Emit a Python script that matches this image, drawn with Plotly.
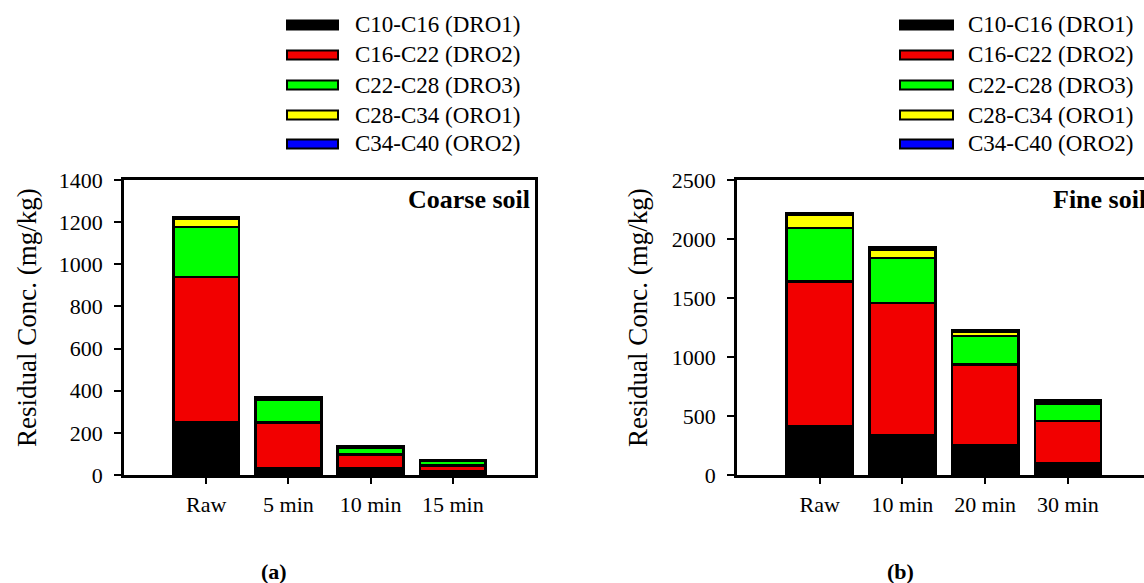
import plotly.graph_objects as go

# ---------------- data ----------------
series_names = ["C10-C16 (DRO1)", "C16-C22 (DRO2)", "C22-C28 (DRO3)",
                "C28-C34 (ORO1)", "C34-C40 (ORO2)"]
series_colors = ["#000000", "#f20000", "#00ff00", "#ffff00", "#0000ff"]

coarse_cats = ["Raw", "5 min", "10 min", "15 min"]
coarse_dro1 = [250, 30, 30, 18]
coarse_dro2 = [690, 219, 68, 28]
coarse_dro3 = [237, 108, 32, 21]
coarse_oro1 = [38, 8, 2, 2]
coarse_oro2 = [8, 6, 3, 3]

fine_cats = ["Raw", "10 min", "20 min", "30 min"]
fine_dro1 = [417, 341, 248, 96]
fine_dro2 = [1224, 1117, 689, 363]
fine_dro3 = [451, 380, 240, 149]
fine_oro1 = [112, 71, 36, 15]
fine_oro2 = [18, 18, 10, 10]

coarse_yticks = [0, 200, 400, 600, 800, 1000, 1200, 1400]
fine_yticks = [0, 500, 1000, 1500, 2000, 2500]

W, H = 1144, 583
FONT = "Liberation Serif"


def px(x):
    return x / W


def py(y):
    return 1 - y / H


fig = go.Figure()

coarse_series = [coarse_dro1, coarse_dro2, coarse_dro3, coarse_oro1, coarse_oro2]
fine_series = [fine_dro1, fine_dro2, fine_dro3, fine_oro1, fine_oro2]

for name, col, vals in zip(series_names, series_colors, coarse_series):
    fig.add_trace(go.Bar(x=coarse_cats, y=vals, name=name, marker_color=col,
                         marker_line=dict(color="black", width=2.5), width=0.8,
                         xaxis="x", yaxis="y", showlegend=False))
for name, col, vals in zip(series_names, series_colors, fine_series):
    fig.add_trace(go.Bar(x=fine_cats, y=vals, name=name, marker_color=col,
                         marker_line=dict(color="black", width=2.5), width=0.8,
                         xaxis="x2", yaxis="y2", showlegend=False))

ydom = [py(475), py(180)]
axis_common = dict(showline=True, linecolor="black", linewidth=2.5,
                   ticks="outside", tickcolor="black", tickwidth=1.5,
                   showgrid=False, zeroline=False, automargin=False,
                   tickfont=dict(family=FONT, size=22, color="black"))

fig.update_layout(
    width=W, height=H, autosize=False,
    margin=dict(l=0, r=0, t=0, b=0, pad=0, autoexpand=False),
    paper_bgcolor="white", plot_bgcolor="white",
    barmode="stack",
    showlegend=False,
    xaxis=dict(domain=[px(124), px(535)], anchor="y", type="category",
               categoryorder="array", categoryarray=coarse_cats,
               range=[-1, 4], mirror=True, ticklen=6, ticklabelstandoff=2,
               **axis_common),
    yaxis=dict(domain=ydom, anchor="x", range=[0, 1400], tickvals=coarse_yticks,
               mirror=True, ticklen=7, ticklabelstandoff=7, **axis_common),
    xaxis2=dict(domain=[px(737), 1.0], anchor="y2", type="category",
                categoryorder="array", categoryarray=fine_cats,
                range=[-1, 3.92], mirror=True, ticklen=6, ticklabelstandoff=2,
                **axis_common),
    yaxis2=dict(domain=ydom, anchor="x2", range=[0, 2500], tickvals=fine_yticks,
                mirror=False, ticklen=7, ticklabelstandoff=7, **axis_common),
)

annotations = []
shapes = []

# axis titles
for xc in (27, 638):
    annotations.append(dict(text="Residual Conc. (mg/kg)", x=px(xc), y=py(318),
                            xref="paper", yref="paper", showarrow=False,
                            textangle=-90, xanchor="center", yanchor="middle",
                            font=dict(family=FONT, size=27, color="black")))

# panel labels
annotations.append(dict(text="<b>Coarse soil</b>", x=px(532), y=py(199),
                        xref="paper", yref="paper", showarrow=False,
                        xanchor="right", yanchor="middle",
                        font=dict(family=FONT, size=26, color="black")))
annotations.append(dict(text="<b>Fine soil</b>", x=px(1148), y=py(199),
                        xref="paper", yref="paper", showarrow=False,
                        xanchor="right", yanchor="middle",
                        font=dict(family=FONT, size=26, color="black")))

# captions
for txt, xc in (("<b>(a)</b>", 274), ("<b>(b)</b>", 900)):
    annotations.append(dict(text=txt, x=px(xc), y=py(571), xref="paper", yref="paper",
                            showarrow=False, xanchor="center", yanchor="middle",
                            font=dict(family=FONT, size=22, color="black")))

# custom legends
legend_rows = [25, 55, 85, 115, 144]
for (sx0, sx1, tx) in ((287, 338, 353), (900, 953, 966)):
    for name, col, yc in zip(series_names, series_colors, legend_rows):
        shapes.append(dict(type="rect", xref="paper", yref="paper",
                           x0=px(sx0), x1=px(sx1), y0=py(yc + 4.5), y1=py(yc - 4.5),
                           fillcolor=col, line=dict(color="black", width=2)))
        annotations.append(dict(text=name, x=px(tx), y=py(yc), xref="paper", yref="paper",
                                showarrow=False, xanchor="left", yanchor="middle",
                                font=dict(family=FONT, size=23, color="black")))

fig.update_layout(annotations=annotations, shapes=shapes)

fig.write_html("out.html")
